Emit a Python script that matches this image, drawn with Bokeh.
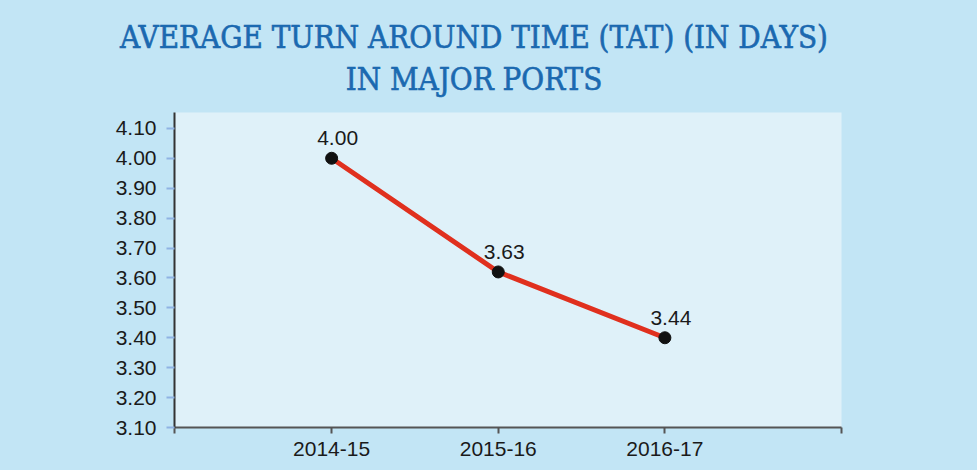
from bokeh.plotting import figure
from bokeh.models import Range1d, FixedTicker, ColumnDataSource, LabelSet, Div
from bokeh.layouts import column
from bokeh.core.properties import value
from bokeh.embed import file_html
from bokeh.resources import INLINE

# Data
years = ["2014-15", "2015-16", "2016-17"]
tat_values = [4.00, 3.62, 3.40]
tat_labels = ["4.00", "3.63", "3.44"]
y_ticks = [3.10, 3.20, 3.30, 3.40, 3.50, 3.60, 3.70, 3.80, 3.90, 4.00, 4.10]
title_lines = ["AVERAGE TURN AROUND TIME (TAT) (IN DAYS)", "IN MAJOR PORTS"]

BG = "#c2e5f5"
xpos = [1, 2, 3]
x_start, x_end = 0.057, 4.06

src = ColumnDataSource(dict(x=xpos, y=tat_values, lab=tat_labels))

title_div = Div(
    text=("<div style=\"width:977px;height:112px;box-sizing:border-box;padding-top:16px;"
          "padding-right:29px;text-align:center;font-family:'DejaVu Serif Condensed','DejaVu Serif';"
          "font-stretch:condensed;font-size:31px;line-height:42px;color:#1b69b0;"
          "-webkit-text-stroke:0.6px #1b69b0;background-color:" + BG + ";\">"
          + "<br>".join(title_lines) + "</div>"),
    width=977, height=112, margin=0,
    styles={"background-color": BG, "margin": "0", "padding": "0"})

p = figure(width=977, height=358, output_backend="svg", toolbar_location=None,
           x_range=Range1d(x_start, x_end), y_range=Range1d(3.10, 4.153),
           min_border_left=174, min_border_right=136, min_border_top=0,
           min_border_bottom=43, margin=0)
p.background_fill_color = "#dff1f9"
p.border_fill_color = BG
p.outline_line_color = None
p.grid.visible = False

p.line("x", "y", source=src, line_color="#e0301e", line_width=5)
p.scatter("x", "y", source=src, size=12, fill_color="#111111", line_color="#111111")

labels = LabelSet(x="x", y="y", text="lab", source=src, x_offset=6, y_offset=13,
                  text_align="center", text_baseline="bottom",
                  text_font=value("Liberation Sans"), text_font_size="21px",
                  text_color="#1a1a1a")
p.add_layout(labels)

# y axis
p.yaxis.ticker = FixedTicker(ticks=y_ticks)
p.yaxis.major_label_overrides = {t: f"{t:.2f}" for t in y_ticks}
p.yaxis.axis_line_color = "#333333"
p.yaxis.axis_line_width = 2
p.yaxis.major_tick_line_color = "#8fb3e3"
p.yaxis.major_tick_line_width = 2
p.yaxis.major_tick_out = 8
p.yaxis.major_tick_in = 0
p.yaxis.minor_tick_line_color = None
p.yaxis.major_label_standoff = 10
p.yaxis.major_label_text_font = "Liberation Sans"
p.yaxis.major_label_text_font_size = "21px"
p.yaxis.major_label_text_color = "#1a1a1a"

# x axis
xt = [x_start] + xpos + [x_end]
p.xaxis.ticker = FixedTicker(ticks=xt)
ov = {x_start: "", x_end: ""}
for xv, yr in zip(xpos, years):
    ov[xv] = yr
p.xaxis.major_label_overrides = ov
p.xaxis.axis_line_color = "#555555"
p.xaxis.axis_line_width = 2
p.xaxis.major_tick_line_color = "#555555"
p.xaxis.major_tick_line_width = 2
p.xaxis.major_tick_out = 6
p.xaxis.major_tick_in = 0
p.xaxis.minor_tick_line_color = None
p.xaxis.major_label_standoff = 8
p.xaxis.major_label_text_font = "Liberation Sans"
p.xaxis.major_label_text_font_size = "21px"
p.xaxis.major_label_text_color = "#1a1a1a"

layout = column(title_div, p, spacing=0, margin=0,
                styles={"background-color": BG})

open("out.html", "w").write(file_html(layout, INLINE))
